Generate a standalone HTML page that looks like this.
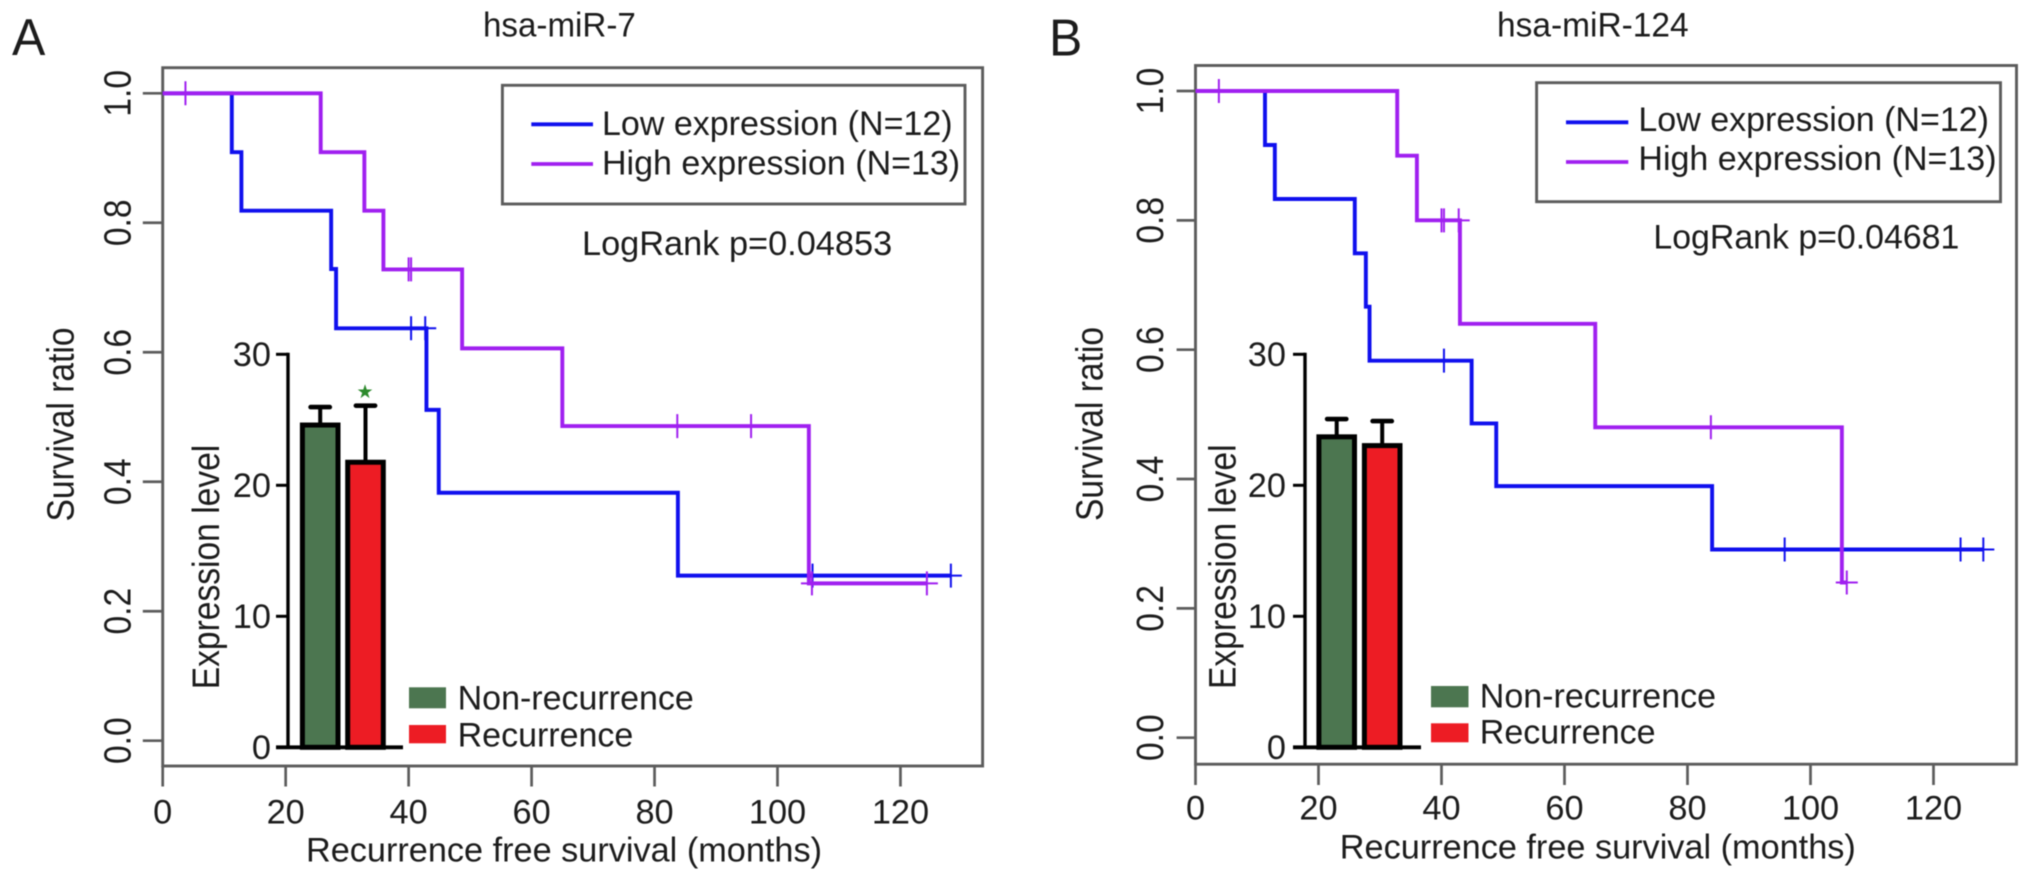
<!DOCTYPE html>
<html lang="en">
<head>
<meta charset="utf-8">
<title>Survival curves for hsa-miR-7 and hsa-miR-124</title>
<style>
  html, body { margin: 0; padding: 0; background: #fff; }
  #figure { display: block; width: 2032px; height: 882px; filter: blur(0.6px); }
  text { font-family: "Liberation Sans", Arial, sans-serif; fill: #1c1c1c; font-size: 34px; }
  .rot { font-size: 33.6px; }
  .frame { fill: none; stroke: #5c5c5c; stroke-width: 2.9; }
</style>
</head>
<body>
<svg id="figure" xmlns="http://www.w3.org/2000/svg" width="2032" height="882" viewBox="0 0 2032 882">
  <rect x="0" y="0" width="2032" height="882" fill="#fff"/>

  <!-- Panel A static parts -->
  <g id="panel-a">
    <text transform="translate(12,55) scale(1,1.04)" style="font-size:50px">A</text>
    <text transform="translate(483,36.7) scale(0.975,1)">hsa-miR-7</text>
    <rect class="frame" x="162.7" y="67.7" width="819.9" height="698.3"/>
    <g>
      <rect class="frame" x="502.4" y="85.3" width="462.6" height="118.7"/>
      <line x1="531.3" y1="124.3" x2="593" y2="124.3" stroke="#1010ee" stroke-width="3.8"/>
      <line x1="531.3" y1="164" x2="593" y2="164" stroke="#a020f0" stroke-width="3.8"/>
      <text transform="translate(602,135)">Low expression (N=12)</text>
      <text transform="translate(602,174.3)">High expression (N=13)</text>
    </g>
    <text transform="translate(582,255) scale(1.01,1)">LogRank p=0.04853</text>
    <text class="rot" text-anchor="middle" transform="translate(73.6,424.5) rotate(-90) scale(1,1.12)">Survival ratio</text>
    <text transform="translate(306,861.7) scale(1.008,1)">Recurrence free survival (months)</text>
    <text class="rot" text-anchor="middle" transform="translate(218.9,567) rotate(-90) scale(1,1.12)">Expression level</text>
    <g>
      <rect x="409" y="687.3" width="37" height="21" fill="#4c7650"/>
      <rect x="409" y="725" width="37" height="18.3" fill="#ed1c24"/>
      <text transform="translate(457.6,709.3)">Non-recurrence</text>
      <text transform="translate(457.6,746.7)">Recurrence</text>
    </g>
    <text x="365" y="398" text-anchor="middle" style="font-family:'DejaVu Sans',sans-serif;font-size:19px;fill:#2c8a2c">★</text>
  </g>

  <!-- Panel B static parts -->
  <g id="panel-b">
    <text transform="translate(1049,55.7) scale(1,1.04)" style="font-size:50px">B</text>
    <text transform="translate(1497,36.7) scale(0.985,1)">hsa-miR-124</text>
    <rect class="frame" x="1195.5" y="65.5" width="821" height="698.7"/>
    <g>
      <rect class="frame" x="1536.6" y="82.7" width="463.9" height="119"/>
      <line x1="1566" y1="122.3" x2="1628.3" y2="122.3" stroke="#1010ee" stroke-width="3.8"/>
      <line x1="1566" y1="162" x2="1628.3" y2="162" stroke="#a020f0" stroke-width="3.8"/>
      <text transform="translate(1638.4,131)">Low expression (N=12)</text>
      <text transform="translate(1638.4,170)">High expression (N=13)</text>
    </g>
    <text transform="translate(1653.4,248.3) scale(0.996,1)">LogRank p=0.04681</text>
    <text class="rot" text-anchor="middle" transform="translate(1102.5,424) rotate(-90) scale(1,1.12)">Survival ratio</text>
    <text transform="translate(1339.8,858.3) scale(1.008,1)">Recurrence free survival (months)</text>
    <text class="rot" text-anchor="middle" transform="translate(1235.3,566.7) rotate(-90) scale(1,1.12)">Expression level</text>
    <g>
      <rect x="1431" y="686" width="37.5" height="21.3" fill="#4c7650"/>
      <rect x="1431" y="723.3" width="37.5" height="19" fill="#ed1c24"/>
      <text transform="translate(1479.8,707.3)">Non-recurrence</text>
      <text transform="translate(1479.8,743.3)">Recurrence</text>
    </g>
  </g>
</svg>

<script>
// Shared axis tick values
var xTickValues = [0, 20, 40, 60, 80, 100, 120];
var yTickValues = [0, 0.2, 0.4, 0.6, 0.8, 1];
var yTickLabels = ['0.0', '0.2', '0.4', '0.6', '0.8', '1.0'];
var insetTickValues = [0, 10, 20, 30];

// Panel A: hsa-miR-7 survival series
var aLowTimes = [11.24, 12.8, 27.4, 28.2, 42.9, 44.9, 83.8];
var aLowSurvival = [0.909, 0.8187, 0.7286, 0.637, 0.511, 0.383, 0.255];
var aLowCensored = [40.4, 42.7, 105.7, 128.2];
var aHighTimes = [25.7, 32.8, 35.9, 48.7, 65, 105.1];
var aHighSurvival = [0.909, 0.8187, 0.728, 0.606, 0.486, 0.243];
var aHighCensored = [3.7, 40, 40.4, 83.7, 95.7, 105.6, 124.3];

// Panel B: hsa-miR-124 survival series
var bLowTimes = [11.3, 12.9, 25.9, 27.7, 28.3, 44.9, 48.9, 84];
var bLowSurvival = [0.9165, 0.833, 0.749, 0.6665, 0.583, 0.486, 0.389, 0.291];
var bLowCensored = [40.4, 95.8, 124.4, 128.1];
var bHighTimes = [32.8, 36, 43, 65, 105.1];
var bHighSurvival = [0.9, 0.8, 0.64, 0.48, 0.24];
var bHighCensored = [3.8, 40, 40.4, 42.8, 83.8, 105.9];

// Inset bar charts
var barCategories = ['non-recurrence', 'recurrence'];
var barColors = ['#4c7650', '#ed1c24'];
var aBarMeans = [24.6, 21.76];
var aBarErrorTops = [25.97, 26.08];
var bBarMeans = [23.7, 23.03];
var bBarErrorTops = [25.06, 24.9];

var SVG_NS = 'http://www.w3.org/2000/svg';

function mk(parent, tag, name, attrs) {
  var el = document.createElementNS(SVG_NS, tag);
  
  
  for (var k in attrs) { el.setAttribute(k, attrs[k]); }
  parent.appendChild(el);
  return el;
}

function survivalAt(times, survival, t) {
  var s = 1;
  for (var i = 0; i < times.length; i++) { if (t >= times[i]) { s = survival[i]; } }
  return s;
}

function drawSeries(parent, id, color, times, survival, censored, X, Y) {
  var g = mk(parent, 'g', id + '-series', {});
  var d = 'M' + X(0) + ' ' + Y(1);
  var current = 1;
  for (var i = 0; i < times.length; i++) {
    d += 'L' + X(times[i]) + ' ' + Y(current);
    current = survival[i];
    d += 'L' + X(times[i]) + ' ' + Y(current);
  }
  var lastCensor = censored[censored.length - 1];
  d += 'L' + X(lastCensor) + ' ' + Y(current);
  mk(g, 'path', id + '-curve', { d: d, fill: 'none', stroke: color, 'stroke-width': 3.9, 'stroke-linejoin': 'miter' });
  censored.forEach(function (t, idx) {
    var s = survivalAt(times, survival, t);
    var cx = X(t), cy = Y(s);
    mk(g, 'path', id + '-censor-mark-' + idx, {
      d: 'M' + (cx - 11) + ' ' + cy + 'H' + (cx + 11) + 'M' + cx + ' ' + (cy - 12) + 'V' + (cy + 12),
      fill: 'none', stroke: color, 'stroke-width': 2
    });
  });
}

function drawAxes(parent, id, X, Y, leftX, bottomY, xTickEnd, yTickEnd, xLabelY, yLabelX) {
  var g = mk(parent, 'g', id + '-axes', {});
  xTickValues.forEach(function (v) {
    mk(g, 'line', id + '-x-tick-' + v, { x1: X(v), x2: X(v), y1: bottomY, y2: xTickEnd, stroke: '#5c5c5c', 'stroke-width': 2.7 });
    var lab = mk(g, 'text', id + '-x-tick-label-' + v, { 'text-anchor': 'middle', transform: 'translate(' + X(v) + ',' + xLabelY + ') scale(1.01,1)' });
    lab.textContent = String(v);
  });
  yTickValues.forEach(function (v, i) {
    mk(g, 'line', id + '-y-tick-' + i, { x1: yTickEnd, x2: leftX, y1: Y(v), y2: Y(v), stroke: '#5c5c5c', 'stroke-width': 2.7 });
    var lab = mk(g, 'text', id + '-y-tick-label-' + i, { 'class': 'rot', 'text-anchor': 'middle', transform: 'translate(' + yLabelX + ',' + Y(v) + ') rotate(-90) scale(1,1.12)' });
    lab.textContent = yTickLabels[i];
  });
}

function drawInset(parent, id, axisX, firstBarCenter, barGap, baseEnd, labelX, means, errorTops) {
  var g = mk(parent, 'g', id + '-inset-chart', {});
  var Yi = function (v) { return 747.3 - 13.1 * v; };
  var Xi = function (i) { return firstBarCenter + barGap * i; };
  var halfBar = 17.8, capHalf = 9.6;
  barCategories.forEach(function (cat, i) {
    mk(g, 'line', id + '-' + cat + '-error-stem', { x1: Xi(i), x2: Xi(i), y1: Yi(means[i]), y2: Yi(errorTops[i]), stroke: '#000', 'stroke-width': 4 });
    mk(g, 'line', id + '-' + cat + '-error-cap', { x1: Xi(i) - capHalf, x2: Xi(i) + capHalf, y1: Yi(errorTops[i]), y2: Yi(errorTops[i]), stroke: '#000', 'stroke-width': 4.6, 'stroke-linecap': 'round' });
    mk(g, 'rect', id + '-bar-' + cat, {
      x: Xi(i) - halfBar, y: Yi(means[i]), width: 2 * halfBar, height: Yi(0) - Yi(means[i]),
      fill: barColors[i], stroke: '#000', 'stroke-width': 5
    });
  });
  mk(g, 'line', id + '-inset-y-axis', { x1: axisX, x2: axisX, y1: Yi(30) - 1.5, y2: Yi(0), stroke: '#000', 'stroke-width': 3.4 });
  mk(g, 'line', id + '-inset-baseline', { x1: axisX - 12, x2: baseEnd, y1: Yi(0), y2: Yi(0), stroke: '#000', 'stroke-width': 3.8 });
  insetTickValues.forEach(function (v) {
    mk(g, 'line', id + '-inset-tick-' + v, { x1: axisX - 12, x2: axisX, y1: Yi(v), y2: Yi(v), stroke: '#000', 'stroke-width': 3 });
    var lab = mk(g, 'text', id + '-inset-tick-label-' + v, { 'text-anchor': 'end', transform: 'translate(' + labelX + ',' + (Yi(v) + 11.5) + ') scale(1.01,1)' });
    lab.textContent = String(v);
  });
}

// Panel A axes: months and survival ratio to pixels
var panelA = document.getElementById('panel-a');
var xA = function (v) { return 162.7 + 6.148 * v; };
var yA = function (v) { return 740.7 - 647.4 * v; };
drawAxes(panelA, 'panel-a', xA, yA, 162.7, 766, 786.5, 142.8, 823.3, 130.3);
drawInset(panelA, 'panel-a', 288, 320.2, 45.3, 403, 271, aBarMeans, aBarErrorTops);
drawSeries(panelA, 'panel-a-low', '#1010ee', aLowTimes, aLowSurvival, aLowCensored, xA, yA);
drawSeries(panelA, 'panel-a-high', '#a020f0', aHighTimes, aHighSurvival, aHighCensored, xA, yA);

// Panel B axes
var panelB = document.getElementById('panel-b');
var xB = function (v) { return 1195.5 + 6.15 * v; };
var yB = function (v) { return 737.7 - 646.7 * v; };
drawAxes(panelB, 'panel-b', xB, yB, 1195.5, 764, 785, 1176.6, 819.4, 1163.2);
drawInset(panelB, 'panel-b', 1305, 1336.7, 45.5, 1421, 1286, bBarMeans, bBarErrorTops);
drawSeries(panelB, 'panel-b-low', '#1010ee', bLowTimes, bLowSurvival, bLowCensored, xB, yB);
drawSeries(panelB, 'panel-b-high', '#a020f0', bHighTimes, bHighSurvival, bHighCensored, xB, yB);
</script>
</body>
</html>
